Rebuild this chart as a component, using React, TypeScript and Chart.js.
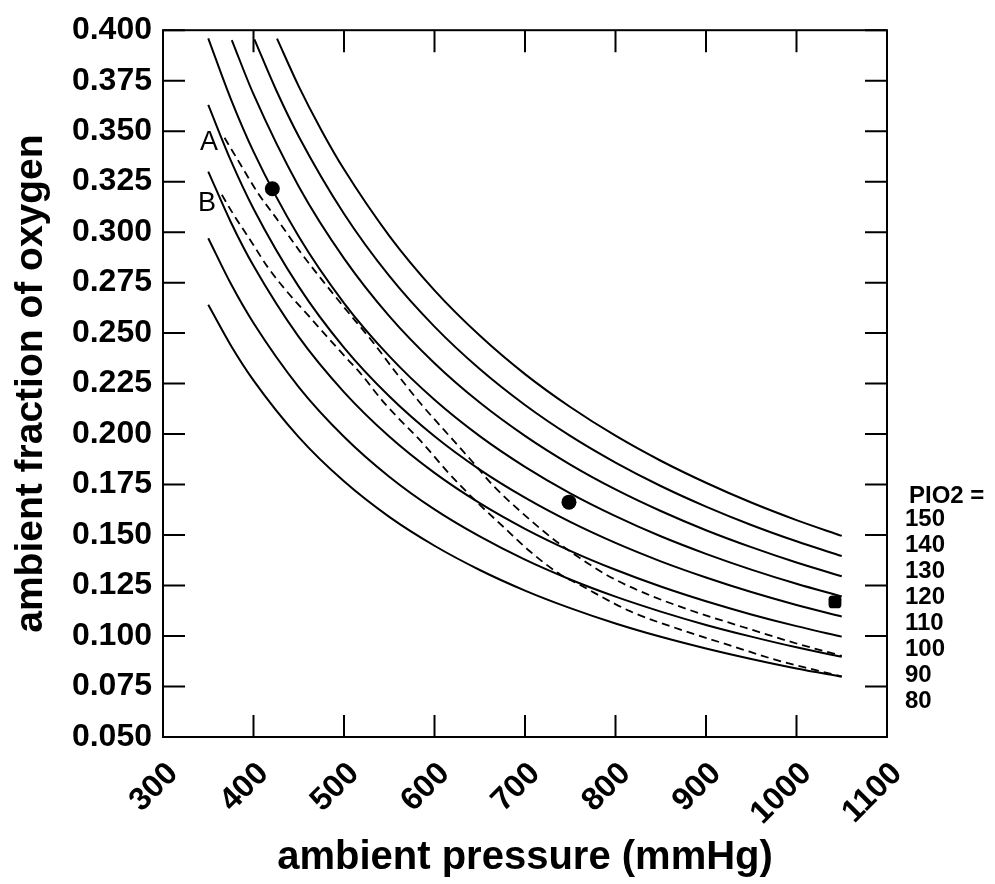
import React, { useEffect, useRef } from "react";
import { Chart, registerables } from "chart.js";

Chart.register(...registerables);

// ---------- data ----------
const xMin = 300;
const xMax = 1100;
const xStep = 100;
const yMin = 0.05;
const yMax = 0.4;
const yStep = 0.025;

const pio2Levels = [150, 140, 130, 120, 110, 100, 90, 80];

const pressLow = [350, 375, 400, 450, 500, 550, 600, 650, 700, 750, 800, 850, 900, 950, 1000, 1050];
const fio2_80 = [0.264, 0.2439, 0.2266, 0.1985, 0.1766, 0.159, 0.1447, 0.1327, 0.1225, 0.1138, 0.1062, 0.0996, 0.0938, 0.0886, 0.0839, 0.0798];
const fio2_90 = [0.297, 0.2744, 0.255, 0.2233, 0.1987, 0.1789, 0.1627, 0.1493, 0.1378, 0.128, 0.1195, 0.1121, 0.1055, 0.0997, 0.0944, 0.0897];
const fio2_100 = [0.33, 0.3049, 0.2833, 0.2481, 0.2208, 0.1988, 0.1808, 0.1658, 0.1531, 0.1422, 0.1328, 0.1245, 0.1172, 0.1107, 0.1049, 0.0997];
const fio2_110 = [0.363, 0.3354, 0.3116, 0.273, 0.2428, 0.2187, 0.1989, 0.1824, 0.1685, 0.1565, 0.1461, 0.137, 0.129, 0.1218, 0.1154, 0.1097];
const fio2_120 = [0.396, 0.3659, 0.3399, 0.2978, 0.2649, 0.2386, 0.217, 0.199, 0.1838, 0.1707, 0.1594, 0.1494, 0.1407, 0.1329, 0.1259, 0.1196];

const press130 = [376, 400, 450, 500, 550, 600, 650, 700, 750, 800, 850, 900, 950, 1000, 1050];
const fio2_130 = [0.3951, 0.3683, 0.3226, 0.287, 0.2584, 0.2351, 0.2156, 0.1991, 0.1849, 0.1726, 0.1619, 0.1524, 0.144, 0.1364, 0.1296];

const press140 = [401, 425, 450, 500, 550, 600, 650, 700, 750, 800, 850, 900, 950, 1000, 1050];
const fio2_140 = [0.3955, 0.3704, 0.3474, 0.3091, 0.2783, 0.2532, 0.2322, 0.2144, 0.1991, 0.1859, 0.1743, 0.1641, 0.155, 0.1469, 0.1396];

const press150 = [426, 450, 475, 500, 550, 600, 650, 700, 750, 800, 850, 900, 950, 1000, 1050];
const fio2_150 = [0.3958, 0.3722, 0.3505, 0.3311, 0.2982, 0.2712, 0.2488, 0.2297, 0.2134, 0.1992, 0.1868, 0.1759, 0.1661, 0.1574, 0.1496];

// dashed line A
const pressA = [368, 385, 405, 427, 451, 477, 503, 532, 558, 584, 610, 639, 665, 698, 735, 761, 790, 825, 880, 940, 1000, 1050];
const fio2A = [0.3467, 0.334, 0.3193, 0.3058, 0.2906, 0.2756, 0.2612, 0.2455, 0.2301, 0.2155, 0.2023, 0.1878, 0.1744, 0.1605, 0.1467, 0.1385, 0.1303, 0.1226, 0.1132, 0.1046, 0.0963, 0.0902];

// dashed line B
const pressB = [365, 378, 396, 416, 436, 462, 488, 503, 518, 543, 558, 588, 615, 643, 676, 705, 739, 757, 816, 871, 934, 974, 1015, 1050];
const fio2B = [0.3185, 0.3087, 0.2964, 0.2825, 0.2711, 0.258, 0.2449, 0.2375, 0.2302, 0.2162, 0.2089, 0.195, 0.181, 0.168, 0.1541, 0.1421, 0.1305, 0.1262, 0.1123, 0.1033, 0.0943, 0.0886, 0.0838, 0.08];

// measured points
const dotPress = [420.8, 748.6, 1042.5];
const dotFio2 = [0.3215, 0.1663, 0.1169];

const curveLabels = ["A", "B"];

// ---------- helpers ----------
const FONT = "'Liberation Sans', Arial, Helvetica, sans-serif";
const toPts = (xs: number[], ys: number[]) => xs.map((x, i) => ({ x, y: ys[i] }));

const solid = (xs: number[], ys: number[], label: string) => ({
  label,
  data: toPts(xs, ys),
  borderColor: "#000",
  borderWidth: 2,
  pointRadius: 0,
  fill: false,
  showLine: true,
  cubicInterpolationMode: "monotone" as const,
});

const dashed = (xs: number[], ys: number[], label: string) => ({
  label,
  data: toPts(xs, ys),
  borderColor: "#000",
  borderWidth: 1.8,
  borderDash: [8, 5],
  pointRadius: 0,
  fill: false,
  showLine: true,
  cubicInterpolationMode: "monotone" as const,
});

const framePlugin = {
  id: "frameAndNotes",
  afterDraw(chart: any) {
    const { ctx, chartArea, scales } = chart;
    const { left, right, top, bottom } = chartArea;
    const xs = scales.x;
    const ys = scales.y;
    ctx.save();
    ctx.strokeStyle = "#000";
    ctx.lineWidth = 2;
    ctx.strokeRect(left, top, right - left, bottom - top);
    const L = 22;
    ctx.beginPath();
    xs.ticks.forEach((t: any) => {
      const px = xs.getPixelForValue(t.value);
      ctx.moveTo(px, bottom);
      ctx.lineTo(px, bottom - L);
      ctx.moveTo(px, top);
      ctx.lineTo(px, top + L);
    });
    ys.ticks.forEach((t: any) => {
      const py = ys.getPixelForValue(t.value);
      ctx.moveTo(left, py);
      ctx.lineTo(left + L, py);
      ctx.moveTo(right, py);
      ctx.lineTo(right - L, py);
    });
    ctx.stroke();

    ctx.fillStyle = "#000";
    // A / B labels
    ctx.font = `27px ${FONT}`;
    ctx.textAlign = "center";
    ctx.textBaseline = "middle";
    ctx.fillText(curveLabels[0], xs.getPixelForValue(350.8), ys.getPixelForValue(0.3445));
    ctx.fillText(curveLabels[1], xs.getPixelForValue(348.6), ys.getPixelForValue(0.3141));

    // PIO2 legend at right
    ctx.font = `bold 24px ${FONT}`;
    ctx.textAlign = "left";
    const y0 = ys.getPixelForValue(0.1693);
    ctx.fillText("PIO2 =", right + 22, y0);
    pio2Levels.forEach((v, i) => {
      ctx.fillText(String(v), right + 18, y0 + 23 + i * 26);
    });
    ctx.restore();
  },
};

export default function App() {
  const ref = useRef<HTMLCanvasElement | null>(null);

  useEffect(() => {
    document.body.style.margin = "0";
    const canvas = ref.current;
    if (!canvas) return;

    const chart = new Chart(canvas, {
      type: "scatter",
      data: {
        datasets: [
          solid(pressLow, fio2_80, "80"),
          solid(pressLow, fio2_90, "90"),
          solid(pressLow, fio2_100, "100"),
          solid(pressLow, fio2_110, "110"),
          solid(pressLow, fio2_120, "120"),
          solid(press130, fio2_130, "130"),
          solid(press140, fio2_140, "140"),
          solid(press150, fio2_150, "150"),
          dashed(pressA, fio2A, "A"),
          dashed(pressB, fio2B, "B"),
          {
            label: "measured",
            data: toPts(dotPress, dotFio2),
            showLine: false,
            backgroundColor: "#000",
            borderColor: "#000",
            pointStyle: ["circle", "circle", "rectRounded"],
            pointRadius: [7.5, 7.5, 7.5],
            pointBorderWidth: 0,
          } as any,
        ],
      },
      options: {
        animation: false,
        responsive: false,
        devicePixelRatio: 1,
        layout: { padding: { top: 24, right: 108, left: 0, bottom: 0 } },
        plugins: { legend: { display: false }, tooltip: { enabled: false } },
        scales: {
          x: {
            type: "linear",
            min: xMin,
            max: xMax,
            afterFit: (s: any) => {
              s.height = 147;
            },
            grid: { display: false, drawTicks: false },
            border: { display: false },
            ticks: {
              stepSize: xStep,
              autoSkip: false,
              minRotation: 45,
              maxRotation: 45,
              padding: 18,
              labelOffset: 10,
              color: "#000",
              font: { family: FONT, size: 32, weight: "bold" },
              callback: (v: any) => String(v),
            },
            title: {
              display: true,
              text: "ambient pressure (mmHg)",
              color: "#000",
              font: { family: FONT, size: 40, weight: "bold" },
              padding: { top: 0, bottom: 2 },
            },
          },
          y: {
            type: "linear",
            min: yMin,
            max: yMax,
            afterFit: (s: any) => {
              s.width = 163;
            },
            grid: { display: false, drawTicks: false },
            border: { display: false },
            ticks: {
              stepSize: yStep,
              autoSkip: false,
              padding: 11,
              color: "#000",
              font: { family: FONT, size: 32, weight: "bold" },
              callback: (v: any) => Number(v).toFixed(3),
            },
            title: {
              display: true,
              text: "ambient fraction of oxygen",
              color: "#000",
              font: { family: FONT, size: 39, weight: "bold" },
              padding: { top: 8, bottom: 0 },
            },
          },
        },
      },
      plugins: [framePlugin],
    });

    return () => chart.destroy();
  }, []);

  return (
    <div style={{ width: 995, height: 884 }}>
      <canvas ref={ref} width={995} height={884} style={{ display: "block" }} />
    </div>
  );
}
